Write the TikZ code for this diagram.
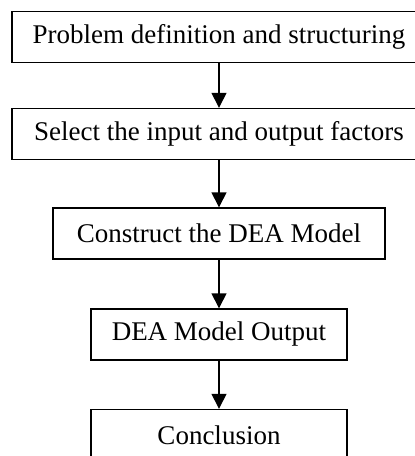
\documentclass[tikz,border=0pt]{standalone}
\usepackage{fontspec}
\setmainfont{Liberation Serif}
\usetikzlibrary{arrows.meta}
\begin{document}
\begin{tikzpicture}[x=1pt,y=-1pt,
  stepbox/.style={draw, line width=1.4pt, minimum height=51pt, inner sep=0pt,
    font=\fontsize{27}{30}\selectfont},
  arr/.style={line width=1.4pt, -{Triangle[length=15pt,width=15pt]}}]
\useasboundingbox (0,0) rectangle (415,456);
\node[stepbox, minimum width=414pt] (b1) at (219,37) {Problem definition and structuring};
\node[stepbox, minimum width=414pt] (b2) at (219,134) {Select the input and output factors};
\node[stepbox, minimum width=332pt] (b3) at (219,233.5) {Construct the DEA Model};
\node[stepbox, minimum width=256pt] (b4) at (219,334.5) {DEA Model Output};
\node[stepbox, minimum width=256pt] (b5) at (219,435) {Conclusion};
\draw[arr] (b1.south) -- (b2.north);
\draw[arr] (b2.south) -- (b3.north);
\draw[arr] (b3.south) -- (b4.north);
\draw[arr] (b4.south) -- (b5.north);
\end{tikzpicture}
\end{document}
